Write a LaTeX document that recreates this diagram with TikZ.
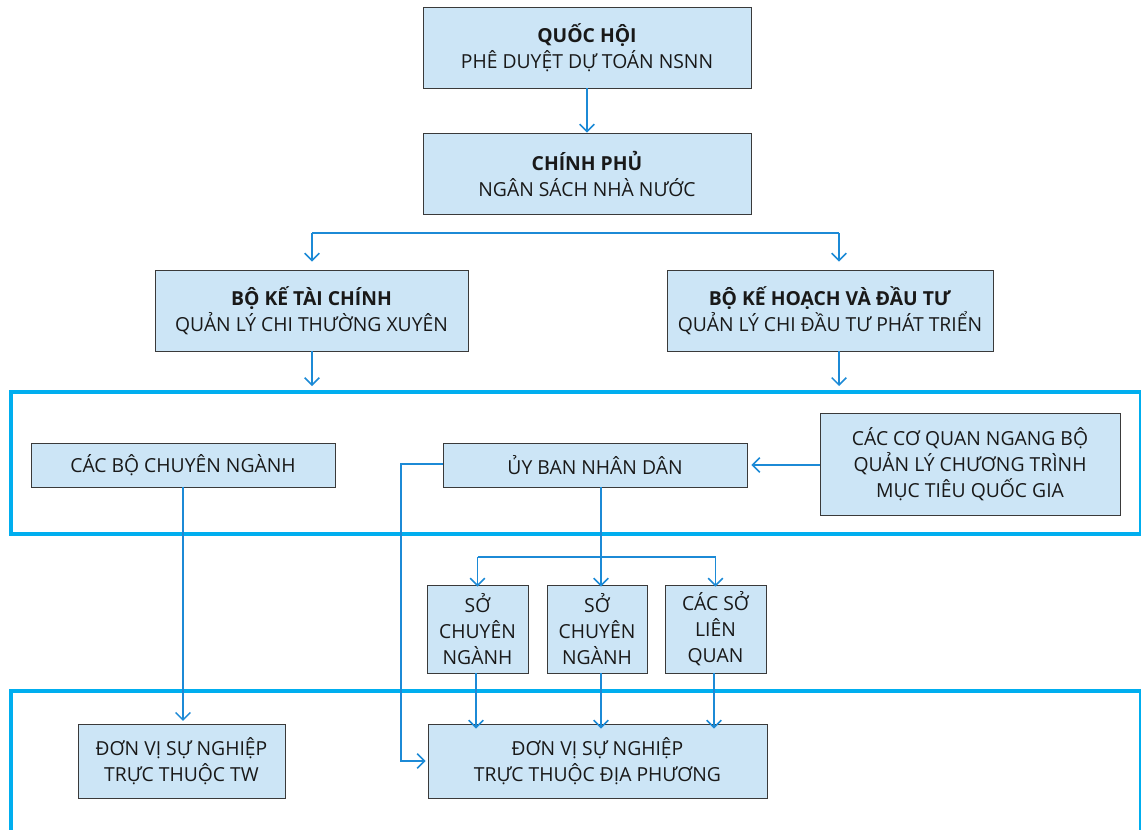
\documentclass[tikz,border=0pt]{standalone}
\usepackage{fontspec}
\setmainfont{Open Sans}
\usetikzlibrary{arrows.meta}
\definecolor{boxfill}{HTML}{CCE5F6}
\definecolor{boxline}{HTML}{3A3A3A}
\definecolor{flowblue}{HTML}{1C8AD6}
\definecolor{framecyan}{HTML}{00AEEF}
\newcommand{\pix}{*0.75pt}
\tikzset{
  unit/.style={draw=boxline, line width=0.7pt, fill=boxfill, align=center,
    inner sep=2pt, font=\fontsize{14.5}{19.5}\selectfont, text=black!90},
  flow/.style={draw=flowblue, line width=1.1pt},
  arr/.style={flow, -{Straight Barb[length=5.5pt, width=11pt, line width=1.1pt]}},
  band/.style={draw=framecyan, line width=2.3pt}
}
\begin{document}
\begin{tikzpicture}[x=0.75pt, y=-0.75pt]
  \useasboundingbox (0,0) rectangle (1141,829);
  % frames
  \draw[band] (11,392) rectangle (1141,534);
  \draw[band] (11,900) |- (1141,691) -- (1141,900);
  % nodes
  \node[unit, minimum width=328\pix, minimum height=81\pix] (qh) at (587,47.5)
    {\textbf{QUỐC HỘI}\\PHÊ DUYỆT DỰ TOÁN NSNN};
  \node[unit, minimum width=328\pix, minimum height=81\pix] (cp) at (587,173.5)
    {\textbf{CHÍNH PHỦ}\\NGÂN SÁCH NHÀ NƯỚC};
  \node[unit, minimum width=313\pix, minimum height=81\pix] (btc) at (311.5,310.5)
    {\textbf{BỘ KẾ TÀI CHÍNH}\\QUẢN LÝ CHI THƯỜNG XUYÊN};
  \node[unit, minimum width=326\pix, minimum height=81\pix] (bkh) at (830,310.5)
    {\textbf{BỘ KẾ HOẠCH VÀ ĐẦU TƯ}\\QUẢN LÝ CHI ĐẦU TƯ PHÁT TRIỂN};
  \node[unit, minimum width=304\pix, minimum height=44\pix] (cbcn) at (183,465)
    {CÁC BỘ CHUYÊN NGÀNH};
  \node[unit, minimum width=304\pix, minimum height=44\pix] (ubnd) at (595,465)
    {ỦY BAN NHÂN DÂN};
  \node[unit, minimum width=300\pix, minimum height=102\pix] (ccq) at (970,464)
    {CÁC CƠ QUAN NGANG BỘ\\QUẢN LÝ CHƯƠNG TRÌNH\\MỤC TIÊU QUỐC GIA};
  \node[unit, minimum width=101\pix, minimum height=88\pix] (so1) at (477.5,629)
    {SỞ\\CHUYÊN\\NGÀNH};
  \node[unit, minimum width=100\pix, minimum height=88\pix] (so2) at (597,629)
    {SỞ\\CHUYÊN\\NGÀNH};
  \node[unit, minimum width=101\pix, minimum height=88\pix] (so3) at (715.5,629)
    {CÁC SỞ\\LIÊN\\QUAN};
  \node[unit, minimum width=207\pix, minimum height=74\pix] (dvtw) at (181.5,761)
    {ĐƠN VỊ SỰ NGHIỆP\\TRỰC THUỘC TW};
  \node[unit, minimum width=339\pix, minimum height=74\pix] (dvdp) at (597.5,761)
    {ĐƠN VỊ SỰ NGHIỆP\\TRỰC THUỘC ĐỊA PHƯƠNG};
  % free ends
  \coordinate (spl) at (312,233);
  \coordinate (spr) at (839,233);
  \coordinate (btcend) at (312,386);
  \coordinate (bkhend) at (839,386);
  \coordinate (ubsplit) at (601,557);
  \coordinate (ubleft) at (401,464);
  % connectors
  \draw[arr] (qh) -- (cp);
  \draw[flow] (spl) -- (spr);
  \draw[arr, shorten >=6pt] (spl) -- (spl |- btc.north);
  \draw[arr, shorten >=6pt] (spr) -- (spr |- bkh.north);
  \draw[arr] (btc.south -| btcend) -- (btcend);
  \draw[arr] (bkh.south -| bkhend) -- (bkhend);
  \draw[arr] (ccq.west |- ubnd.east) -- ([xshift=4\pix]ubnd.east);
  \draw[arr, shorten >=2pt] (cbcn.south) -- (cbcn.south |- dvtw.north);
  \draw[arr] (ubnd.west |- ubleft) -- (ubleft) |- ([xshift=-2\pix]dvdp.west);
  \draw[flow] (ubnd.south -| ubsplit) -- (ubsplit);
  \draw[flow] (so1.north |- ubsplit) -- (so3.north |- ubsplit);
  \draw[arr] (so1.north |- ubsplit) -- ([yshift=-2\pix]so1.north);
  \draw[arr] (ubsplit) -- ([yshift=-2\pix]so2.north -| ubsplit);
  \draw[arr] (so3.north |- ubsplit) -- ([yshift=-2\pix]so3.north);
  \draw[arr] (so1.south -| 476,0) -- ([yshift=-5\pix]dvdp.north -| 476,0);
  \draw[arr] (so2.south -| ubsplit) -- ([yshift=-5\pix]dvdp.north -| ubsplit);
  \draw[arr] (so3.south -| 714,0) -- ([yshift=-5\pix]dvdp.north -| 714,0);
\end{tikzpicture}
\end{document}
